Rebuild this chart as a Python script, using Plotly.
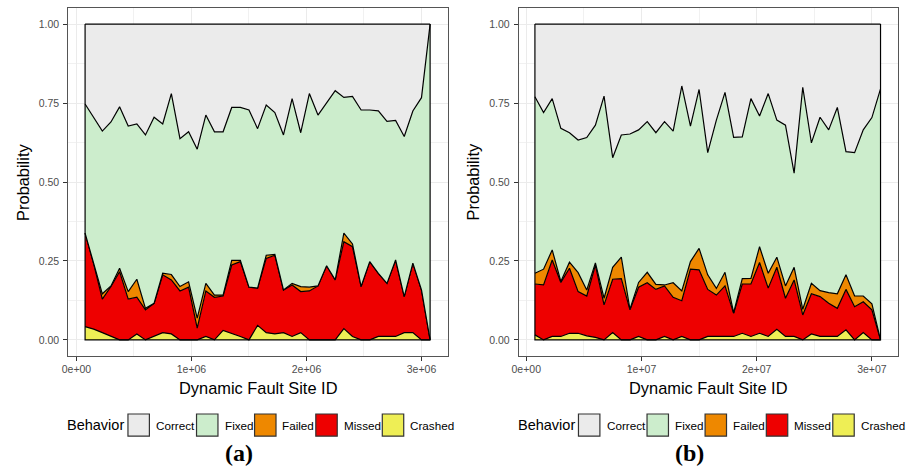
import plotly.graph_objects as go

# Dynamic fault site IDs (x positions of the sampled sites)
sites_a = [75000, 150000, 225000, 300000, 375000, 450000, 525000, 600000, 675000,
           750000, 825000, 900000, 975000, 1050000, 1125000, 1200000, 1275000,
           1350000, 1425000, 1500000, 1575000, 1650000, 1725000, 1800000, 1875000,
           1950000, 2025000, 2100000, 2175000, 2250000, 2325000, 2400000, 2475000,
           2550000, 2625000, 2700000, 2775000, 2850000, 2925000, 3000000, 3075000]
sites_b = [750000, 1500000, 2250000, 3000000, 3750000, 4500000, 5250000, 6000000,
           6750000, 7500000, 8250000, 9000000, 9750000, 10500000, 11250000,
           12000000, 12750000, 13500000, 14250000, 15000000, 15750000, 16500000,
           17250000, 18000000, 18750000, 19500000, 20250000, 21000000, 21750000,
           22500000, 23250000, 24000000, 24750000, 25500000, 26250000, 27000000,
           27750000, 28500000, 29250000, 30000000, 30750000]

# Behaviour probabilities per site, panel (a)
crashed_a = [0.042, 0.034, 0.023, 0.011, 0, 0, 0.019, 0, 0.011, 0.023, 0.019, 0, 0, 0,
             0.011, 0, 0.030, 0.021, 0.011, 0, 0.046, 0.023, 0.019, 0.023, 0.011, 0.023,
             0, 0, 0, 0, 0.036, 0.011, 0, 0, 0.011, 0.011, 0.011, 0.023, 0.023, 0, 0]
missed_a = [0.296, 0.206, 0.106, 0.158, 0.216, 0.129, 0.116, 0.095, 0.105, 0.183, 0.171,
            0.155, 0.167, 0.037, 0.144, 0.135, 0.109, 0.216, 0.237, 0.167, 0.118, 0.235,
            0.249, 0.135, 0.163, 0.130, 0.155, 0.171, 0.235, 0.190, 0.275, 0.284, 0.169,
            0.248, 0.200, 0.168, 0.242, 0.114, 0.220, 0.158, 0]
failed_a = [0, 0, 0.017, 0.002, 0.011, 0.024, 0.057, 0.005, 0, 0.005, 0.017, 0.014, 0.017,
            0.032, 0.024, 0.007, 0.003, 0.015, 0.004, 0, 0, 0.010, 0.003, 0, 0.005, 0.016,
            0.012, 0, 0, 0, 0.027, 0.009, 0, 0, 0, 0, 0, 0, 0, 0, 0]
fixed_a = [0.409, 0.465, 0.515, 0.519, 0.511, 0.524, 0.492, 0.549, 0.589, 0.473, 0.573,
           0.468, 0.475, 0.535, 0.533, 0.517, 0.517, 0.484, 0.484, 0.561, 0.505, 0.476,
           0.449, 0.491, 0.585, 0.487, 0.613, 0.541, 0.516, 0.599, 0.430, 0.467, 0.559,
           0.480, 0.514, 0.513, 0.442, 0.507, 0.482, 0.609, 1.0]
correct_a = [0.253, 0.295, 0.339, 0.310, 0.262, 0.323, 0.316, 0.351, 0.295, 0.316, 0.220,
             0.363, 0.341, 0.396, 0.288, 0.341, 0.341, 0.264, 0.264, 0.272, 0.331, 0.256,
             0.280, 0.351, 0.236, 0.344, 0.220, 0.288, 0.249, 0.211, 0.232, 0.229, 0.272,
             0.272, 0.275, 0.308, 0.305, 0.356, 0.275, 0.233, 0]

# Behaviour probabilities per site, panel (b)
crashed_b = [0.016, 0, 0.011, 0.011, 0.021, 0.021, 0.013, 0.008, 0, 0.023, 0, 0, 0.011, 0,
             0, 0.011, 0, 0.011, 0, 0, 0.011, 0.011, 0.011, 0.011, 0.021, 0.011, 0.021,
             0.011, 0.034, 0.011, 0.011, 0, 0.019, 0.011, 0.011, 0.011, 0.032, 0, 0.023,
             0, 0]
missed_b = [0.161, 0.174, 0.242, 0.171, 0.206, 0.132, 0.126, 0.229, 0.111, 0.169, 0.194,
            0.095, 0.156, 0.181, 0.160, 0.160, 0.135, 0.113, 0.224, 0.222, 0.149, 0.131,
            0.160, 0.073, 0.156, 0.166, 0.224, 0.153, 0.196, 0.121, 0.179, 0.079, 0.127,
            0.126, 0.105, 0.089, 0.128, 0.105, 0.098, 0.095, 0]
failed_b = [0.034, 0.050, 0.032, 0.003, 0.019, 0.060, 0.019, 0.007, 0.021, 0.038, 0.068,
            0.002, 0.015, 0.033, 0.016, 0.003, 0.046, 0.031, 0.024, 0.068, 0.046, 0.021,
            0.043, 0.002, 0.017, 0.018, 0.050, 0.047, 0.032, 0.039, 0.040, 0.018, 0.033,
            0.019, 0.034, 0.046, 0.046, 0.034, 0.018, 0.019, 0]
fixed_b = [0.559, 0.496, 0.479, 0.485, 0.410, 0.420, 0.483, 0.436, 0.640, 0.347, 0.387,
           0.555, 0.483, 0.477, 0.480, 0.517, 0.480, 0.649, 0.429, 0.503, 0.387, 0.533,
           0.570, 0.555, 0.449, 0.569, 0.414, 0.569, 0.434, 0.509, 0.298, 0.703, 0.445,
           0.549, 0.515, 0.590, 0.390, 0.454, 0.526, 0.590, 0.795]
correct_b = [0.230, 0.280, 0.236, 0.330, 0.344, 0.367, 0.359, 0.320, 0.228, 0.423, 0.351,
             0.348, 0.335, 0.309, 0.344, 0.309, 0.339, 0.196, 0.323, 0.207, 0.407, 0.304,
             0.216, 0.359, 0.357, 0.236, 0.291, 0.220, 0.304, 0.320, 0.472, 0.200, 0.376,
             0.295, 0.335, 0.264, 0.404, 0.407, 0.335, 0.296, 0.205]

x_tick_vals_a = [0, 1000000, 2000000, 3000000]
x_tick_text_a = ["0e+00", "1e+06", "2e+06", "3e+06"]
x_tick_vals_b = [0, 10000000, 20000000, 30000000]
x_tick_text_b = ["0e+00", "1e+07", "2e+07", "3e+07"]
y_tick_vals = [0, 0.25, 0.5, 0.75, 1.0]

behaviors = ["Correct", "Fixed", "Failed", "Missed", "Crashed"]
colors = {
    "Correct": "#EBEBEB",
    "Fixed": "#CCEDCC",
    "Failed": "#EE8800",
    "Missed": "#EE0000",
    "Crashed": "#EEEE55",
}

W, H = 909, 468
SANS = "Liberation Sans, Arial, Helvetica, sans-serif"


def px_x(v):
    return v / W


def px_y(v):
    return 1 - v / H


fig = go.Figure()

panels = [
    dict(x=sites_a, series={"Crashed": crashed_a, "Missed": missed_a, "Failed": failed_a,
                            "Fixed": fixed_a, "Correct": correct_a},
         xa="x", ya="y", group="a"),
    dict(x=sites_b, series={"Crashed": crashed_b, "Missed": missed_b, "Failed": failed_b,
                            "Fixed": fixed_b, "Correct": correct_b},
         xa="x2", ya="y2", group="b"),
]

for p in panels:
    # stack from the bottom: Crashed, Missed, Failed, Fixed, Correct
    for name in ["Crashed", "Missed", "Failed", "Fixed", "Correct"]:
        fig.add_trace(go.Scatter(
            x=p["x"], y=p["series"][name], name=name,
            mode="lines", stackgroup=p["group"],
            line=dict(color="black", width=1.2),
            fillcolor=colors[name],
            xaxis=p["xa"], yaxis=p["ya"], showlegend=False, hoverinfo="skip",
        ))
    # outline of the stacked region: left edge, baseline, right edge
    xs = p["x"]
    fig.add_trace(go.Scatter(
        x=[xs[0], xs[0], xs[-1], xs[-1]], y=[1, 0, 0, 1],
        mode="lines", line=dict(color="black", width=1.2),
        xaxis=p["xa"], yaxis=p["ya"], showlegend=False, hoverinfo="skip",
    ))

axis_common = dict(
    showgrid=True, gridcolor="#EBEBEB", gridwidth=1,
    zeroline=False, showline=True, mirror=True, linecolor="#555555", linewidth=1,
    ticks="outside", ticklen=4, tickcolor="#333333", tickwidth=1,
    tickfont=dict(family=SANS, size=10.5, color="#4D4D4D"),
)

ydom = [px_y(355.7), px_y(8.3)]
fig.update_layout(
    width=W, height=H,
    margin=dict(l=0, r=0, t=0, b=0),
    paper_bgcolor="white", plot_bgcolor="white",
    showlegend=False,
    xaxis=dict(domain=[px_x(61.7), px_x(444.3)], range=[-71600, 3229500],
               tickvals=x_tick_vals_a, ticktext=x_tick_text_a, anchor="y",
               minor=dict(dtick=500000, tick0=0, showgrid=True, gridcolor="#F1F1F1",
                          gridwidth=0.6, ticks=""),
               **axis_common),
    yaxis=dict(domain=ydom, range=[-0.05, 1.05], tickvals=y_tick_vals, tickformat=".2f",
               anchor="x", ticklabelstandoff=2,
               minor=dict(dtick=0.125, tick0=0, showgrid=True, gridcolor="#F1F1F1",
                          gridwidth=0.6, ticks=""),
               **axis_common),
    xaxis2=dict(domain=[px_x(515.7), px_x(898.3)], range=[-655000, 32300000],
                tickvals=x_tick_vals_b, ticktext=x_tick_text_b, anchor="y2",
                minor=dict(dtick=5000000, tick0=0, showgrid=True, gridcolor="#F1F1F1",
                           gridwidth=0.6, ticks=""),
                **axis_common),
    yaxis2=dict(domain=ydom, range=[-0.05, 1.05], tickvals=y_tick_vals, tickformat=".2f",
                anchor="x2", ticklabelstandoff=2,
                minor=dict(dtick=0.125, tick0=0, showgrid=True, gridcolor="#F1F1F1",
                           gridwidth=0.6, ticks=""),
                **axis_common),
)

annotations = []
shapes = []

for left, centre, tag in [(0, 253, "(a)"), (454, 707, "(b)")]:
    # axis titles
    annotations.append(dict(
        text="Probability", x=px_x(left + 16), y=px_y(182), xref="paper", yref="paper",
        textangle=-90, showarrow=False, xanchor="center", yanchor="middle",
        font=dict(family=SANS, size=16.4, color="black"),
    ))
    annotations.append(dict(
        text="Dynamic Fault Site ID", x=px_x(centre), y=px_y(387.5),
        xref="paper", yref="paper", showarrow=False, xanchor="center", yanchor="middle",
        font=dict(family=SANS, size=16.4, color="black"),
    ))
    # legend
    base = left + 58.5
    annotations.append(dict(
        text="Behavior", x=px_x(base), y=px_y(425), xref="paper", yref="paper",
        showarrow=False, xanchor="left", yanchor="middle",
        font=dict(family=SANS, size=14.5, color="black"),
    ))
    box_offsets = [63.4, 132.5, 191.0, 252.7, 319.7]
    label_offsets = [90.0, 159.0, 217.0, 278.7, 345.9]
    for name, bo, lo in zip(behaviors, box_offsets, label_offsets):
        shapes.append(dict(
            type="rect", xref="paper", yref="paper",
            x0=px_x(base + bo), x1=px_x(base + bo + 21.6),
            y0=px_y(436.2), y1=px_y(414.0),
            fillcolor=colors[name], line=dict(color="#333333", width=1.2),
        ))
        annotations.append(dict(
            text=name, x=px_x(base + lo), y=px_y(425), xref="paper", yref="paper",
            showarrow=False, xanchor="left", yanchor="middle",
            font=dict(family=SANS, size=11.7, color="black"),
        ))
    # sub-figure caption
    annotations.append(dict(
        text="<b>" + tag + "</b>", x=px_x(left + 233.5), y=px_y(453),
        xref="paper", yref="paper", showarrow=False, xanchor="center", yanchor="middle",
        font=dict(family="Liberation Serif, Times New Roman, serif", size=24, color="black"),
    ))

fig.update_layout(annotations=annotations, shapes=shapes)

fig.write_html("out.html")
